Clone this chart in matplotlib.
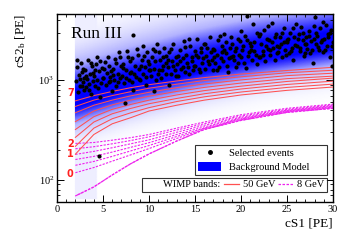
import numpy as np
import matplotlib
matplotlib.use('Agg')
import matplotlib.pyplot as plt
from matplotlib.colors import LinearSegmentedColormap, PowerNorm
from matplotlib.lines import Line2D
from matplotlib.patches import Patch
from matplotlib.ticker import MultipleLocator, LogLocator, NullFormatter

plt.rcParams['font.family'] = ['Liberation Serif', 'DejaVu Serif']
plt.rcParams['mathtext.fontset'] = 'stix'

# knots in cS1 where the band curves were read
knots = [2, 4, 6, 8, 10, 13, 16, 20, 25, 30]

# 50 GeV curves (solid red), bottom to top
red_curves = [
    [181, 285, 365, 420, 490, 560, 630, 710, 790, 853],
    [217, 330, 410, 470, 530, 610, 680, 760, 845, 912],
    [267, 380, 460, 520, 580, 655, 730, 815, 905, 977],
    [320, 430, 510, 570, 630, 710, 785, 870, 970, 1047],
    [384, 490, 565, 630, 690, 770, 845, 935, 1035, 1096],
    [471, 560, 630, 695, 755, 840, 915, 1005, 1110, 1173],
    [545, 630, 700, 765, 830, 910, 990, 1080, 1185, 1256],
    [620, 700, 770, 840, 900, 980, 1060, 1150, 1250, 1345],
]

# 8 GeV curves (dashed magenta), bottom to top
mag_curves = [
    [69, 85, 112, 145, 182, 245, 320, 395, 475, 522],
    [118, 133, 154, 178, 206, 260, 325, 402, 482, 530],
    [140, 153, 172, 195, 221, 272, 330, 408, 488, 538],
    [160, 172, 190, 212, 236, 285, 340, 415, 494, 546],
    [180, 193, 210, 230, 252, 300, 353, 425, 500, 554],
    [205, 215, 230, 248, 270, 316, 366, 437, 510, 564],
    [232, 237, 250, 265, 285, 330, 380, 450, 522, 575],
]

band_labels = ['7', '2', '1', '0']
band_label_y = [748, 227, 181, 115]

# background model centre
bg_x = [2, 8, 15, 22, 30]
bg_center = [640, 950, 1400, 1900, 2450]

event_cs1 = [
    2.1, 2.2, 2.3, 2.4, 2.5, 2.6, 2.7, 2.8, 2.9, 2.95, 2.15, 2.45, 2.75, 2.85,
    3.05, 3.15, 3.3, 3.4, 3.5, 3.6, 3.7, 3.8, 3.9, 3.2, 3.45, 3.65, 3.95,
    4.0, 4.1, 4.25, 4.3, 4.4, 4.55, 4.7, 4.8, 4.9, 4.15, 4.45, 4.65, 4.95, 4.6,
    5.05, 5.2, 5.3, 5.45, 5.6, 5.7, 5.8, 5.95, 5.1, 5.5, 5.75, 5.9,
    6.05, 6.2, 6.3, 6.45, 6.6, 6.7, 6.85, 6.95, 6.1, 6.4, 6.65, 6.9,
    7.05, 7.2, 7.3, 7.4, 7.55, 7.7, 7.8, 7.9, 7.15, 7.45, 7.65, 7.95,
    8.05, 8.2, 8.3, 8.3, 8.45, 8.6, 8.75, 8.9, 8.1, 8.4, 8.65, 8.95,
    9.05, 9.2, 9.35, 9.4, 9.55, 9.7, 9.8, 9.95, 9.15, 9.45, 9.65, 9.9,
    10.05, 10.2, 10.35, 10.5, 10.5, 10.65, 10.8, 10.9, 10.1, 10.4, 10.7, 10.95,
    11.05, 11.2, 11.35, 11.5, 11.65, 11.8, 11.9, 11.1, 11.4, 11.55, 11.85,
    12.05, 12.2, 12.2, 12.35, 12.5, 12.65, 12.8, 12.95, 12.1, 12.4, 12.6, 12.9,
    13.05, 13.2, 13.35, 13.5, 13.65, 13.8, 13.95, 13.1, 13.4, 13.7, 13.9,
    14.05, 14.2, 14.35, 14.5, 14.65, 14.8, 14.95, 14.1, 14.4, 14.7, 14.9,
    15.05, 15.2, 15.35, 15.5, 15.65, 15.8, 15.95, 15.1, 15.4, 15.7, 15.9,
    16.05, 16.2, 16.35, 16.5, 16.65, 16.8, 16.95, 16.1, 16.4, 16.7, 16.9,
    17.05, 17.2, 17.35, 17.5, 17.65, 17.8, 17.95, 17.1, 17.4, 17.7, 17.9,
    18.05, 18.2, 18.35, 18.5, 18.6, 18.8, 18.95, 18.1, 18.4, 18.7, 18.9,
    19.05, 19.2, 19.35, 19.5, 19.65, 19.8, 19.95, 19.1, 19.4, 19.7, 19.9,
    20.05, 20.2, 20.35, 20.5, 20.65, 20.7, 20.85, 20.1, 20.4, 20.8, 20.95,
    21.05, 21.2, 21.3, 21.45, 21.6, 21.75, 21.9, 21.1, 21.4, 21.7, 21.95,
    22.05, 22.2, 22.35, 22.5, 22.65, 22.8, 22.95, 22.1, 22.4, 22.7, 22.9,
    23.05, 23.2, 23.35, 23.5, 23.65, 23.8, 23.95, 23.1, 23.4, 23.7, 23.9,
    24.05, 24.2, 24.35, 24.5, 24.65, 24.8, 24.95, 24.1, 24.4, 24.7, 24.9,
    25.05, 25.2, 25.35, 25.5, 25.65, 25.8, 26.0, 25.1, 25.4, 25.7, 25.9,
    26.1, 26.25, 26.4, 26.55, 26.7, 26.85, 26.95, 26.15, 26.45, 26.75, 26.9,
    27.05, 27.2, 27.35, 27.5, 27.65, 27.8, 27.95, 27.1, 27.4, 27.7, 27.9,
    28.0, 28.15, 28.3, 28.45, 28.6, 28.75, 28.9, 28.1, 28.4, 28.7, 28.95,
    29.05, 29.2, 29.35, 29.5, 29.65, 29.8, 29.95, 29.1, 29.4, 29.7, 29.85, 29.9,
]
event_cs2 = [
    980, 1350, 760, 1120, 880, 1480, 1200, 950, 795, 1050, 1600, 1020, 870, 1290,
    1250, 860, 1030, 1600, 920, 1150, 720, 1380, 990, 1100, 800, 1500, 1180,
    1100, 880, 1450, 1690, 1000, 1230, 680, 940, 1320, 1260, 830, 1550, 1060, 173,
    1050, 1520, 890, 1180, 960, 1400, 1080, 780, 1290, 1700, 990, 1230,
    1300, 1000, 1620, 870, 1150, 1900, 1050, 1380, 1120, 1480, 960, 1720,
    1100, 1450, 930, 590, 1250, 1700, 1000, 1550, 1320, 1050, 1980, 1180,
    1200, 950, 2850, 795, 1400, 1080, 1800, 1300, 1650, 1150, 2050, 1020,
    1000, 1600, 1150, 2220, 1350, 900, 1900, 1250, 1400, 1750, 1080, 1550,
    1450, 1100, 1700, 780, 1300, 1950, 1000, 2320, 1250, 2050, 1550, 1150,
    1250, 1600, 1050, 1400, 2100, 1150, 1750, 1900, 1250, 1700, 1500,
    1350, 890, 1900, 1150, 1550, 2300, 1250, 1700, 1600, 2050, 1400, 1100,
    1450, 1100, 2000, 1300, 1650, 2450, 1200, 1750, 1550, 1350, 2150,
    1800, 1350, 1150, 2200, 1550, 1250, 1950, 1500, 2600, 1700, 1400,
    1400, 2600, 1700, 1200, 1900, 1500, 2300, 1800, 1300, 2100, 1650,
    1300, 1750, 2100, 1450, 2700, 1600, 1250, 2300, 1550, 1900, 2050,
    2000, 1500, 1800, 2500, 1350, 1650, 2200, 1700, 1250, 2800, 1900,
    1550, 2900, 1850, 1400, 1200, 2100, 1700, 2000, 2400, 1650, 2700,
    2300, 1600, 1950, 1350, 2600, 1800, 3100, 1750, 2100, 1500, 2450,
    1700, 2200, 1500, 1315, 2500, 4400, 1900, 2000, 2800, 1750, 2350,
    2000, 1600, 3670, 2400, 1800, 1450, 2800, 2200, 1950, 3000, 1700,
    1700, 2300, 1950, 3200, 1550, 2600, 2050, 2900, 1800, 2200, 3500,
    2500, 1800, 3750, 2100, 1600, 2900, 2200, 2000, 2400, 2700, 1850,
    1900, 2700, 2300, 1700, 3300, 2000, 2550, 2150, 3000, 2400, 1800,
    2400, 1850, 3000, 2100, 1600, 2700, 3650, 2600, 1950, 3300, 2250,
    2200, 2900, 1950, 3400, 2500, 1750, 2300, 2600, 2100, 3000, 1850,
    2700, 2050, 3100, 1850, 2450, 1500, 3500, 2300, 2800, 2000, 2600,
    4300, 2300, 2800, 2000, 3300, 2550, 1900, 3000, 2150, 2400, 3800,
    2600, 3600, 2200, 2900, 1700, 3200, 2400, 2000, 2700, 3000, 2200, 1400,
]

fig = plt.figure(figsize=(3.55, 2.41), dpi=100)
ax = fig.add_axes([0.1606, 0.1618, 0.7775, 0.780])

# background model density
gx = np.linspace(2, 30, 200)
gy = np.logspace(np.log10(60), np.log10(4600), 300)
X, Y = np.meshgrid(gx, gy)
cen = np.interp(X, bg_x, np.log10(bg_center))
ly = np.log10(Y)
sig = np.where(ly > cen, 0.21, 0.14)
dens = np.exp(-0.5 * ((ly - cen) / sig) ** 2)
dens = np.where((X < 4.3) & (Y > 65), np.maximum(dens, 0.012), dens)
cmap = LinearSegmentedColormap.from_list('wb', ['#ffffff', '#b4b4ff', '#0000ff'])
ax.pcolormesh(gx, gy, dens, cmap=cmap, norm=PowerNorm(0.5, 0, 0.9), shading='gouraud',
              rasterized=True, zorder=1)

for c in mag_curves:
    ax.plot(knots, c, color='#ee22ee', lw=0.8, ls=(0, (2, 1.2)), zorder=2)
ax.plot(knots, mag_curves[0], color='#ee22ee', lw=0.9, ls=(1.6, (2, 1.2)), zorder=2)
for c in red_curves:
    ax.plot(knots, c, color='#ff5050', lw=0.75, zorder=3)

for lab, yy in zip(band_labels, band_label_y):
    ax.text(1.45, yy, lab, color='#ff2020', fontsize=7, ha='center', va='center',
            fontweight='bold', family=['DejaVu Sans'])

ax.scatter(event_cs1, event_cs2, s=9, color='black', lw=0, zorder=5)

ax.text(1.5, 2900, 'Run III', fontsize=12.5, va='center', ha='left', zorder=6)

ax.set_xlim(0, 30)
ax.set_yscale('log')
ax.set_ylim(60, 4600)
ax.xaxis.set_major_locator(MultipleLocator(5))
ax.xaxis.set_minor_locator(MultipleLocator(1))
ax.yaxis.set_minor_locator(LogLocator(base=10, subs=np.arange(2, 10)))
ax.yaxis.set_minor_formatter(NullFormatter())
ax.tick_params(which='both', direction='in', top=True, right=True, labelsize=7.5, pad=2)
ax.tick_params(which='major', length=5, width=0.7)
ax.tick_params(which='minor', length=2.5, width=0.6)
for s in ax.spines.values():
    s.set_linewidth(1.0)

ax.set_xlabel('cS1 [PE]', loc='right', fontsize=9.5, labelpad=3)
ax.set_ylabel('cS2$_\\mathregular{b}$ [PE]', loc='top', fontsize=9.5)
ax.yaxis.set_label_coords(-0.105, 1.0)

h1 = [Line2D([], [], ls='none', marker='o', ms=2.5, color='black'),
      Patch(facecolor='#0000ff', edgecolor='none')]
leg1 = ax.legend(h1, ['Selected events', 'Background Model'], loc='lower left',
                 bbox_to_anchor=(0.5, 0.144, 0.478, 0.165), mode='expand', borderaxespad=0,
                 fontsize=7.5, frameon=True, fancybox=False, edgecolor='black',
                 handlelength=2.2, handleheight=1.0, borderpad=0.3, labelspacing=0.35)
leg1.get_frame().set_linewidth(0.8)
leg1.set_zorder(10)
ax.add_artist(leg1)

h2 = [Line2D([], [], ls='none'),
      Line2D([], [], color='#ff5050', lw=0.9),
      Line2D([], [], color='#ee22ee', lw=0.9, ls=(0, (2, 1.2)))]
leg2 = ax.legend(h2, ['WIMP bands:', '50 GeV', '8 GeV'], loc='lower left', ncol=3,
                 bbox_to_anchor=(0.308, 0.053, 0.670, 0.09), mode='expand', borderaxespad=0,
                 fontsize=7.5, frameon=True, fancybox=False, edgecolor='black',
                 handlelength=1.5, handletextpad=0.3, columnspacing=0.6, borderpad=0.25)
leg2.get_frame().set_linewidth(0.8)
leg2.set_zorder(10)

fig.savefig('out.png', dpi=100)
